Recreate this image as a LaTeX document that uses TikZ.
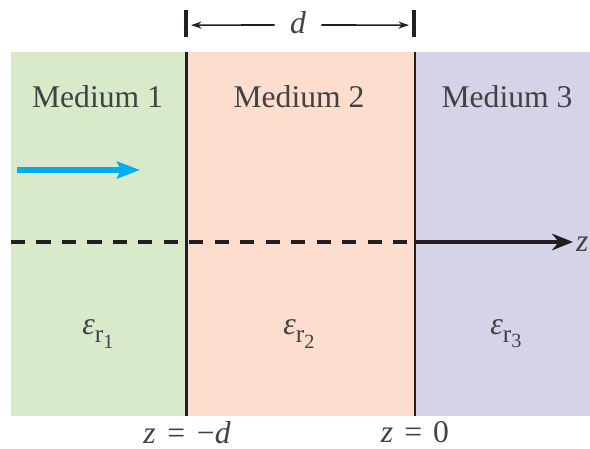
\documentclass[tikz,border=0pt]{standalone}
\usepackage{fontspec}
\setmainfont{Liberation Serif}
\usepackage{tikz}
\usetikzlibrary{arrows.meta, positioning, calc}
\definecolor{medgreen}{RGB}{217, 234, 203}
\definecolor{medpeach}{RGB}{252, 221, 206}
\definecolor{medlilac}{RGB}{213, 211, 232}
\definecolor{wavecyan}{RGB}{0, 174, 239}
\definecolor{inkgray}{RGB}{35, 31, 32}
\newcommand{\epsr}[1]{\textit{ε}\raisebox{-4.5pt}{\fontsize{14.5}{16}\selectfont r\raisebox{-3pt}{\fontsize{11.5}{13}\selectfont #1}}}

\begin{document}
\begin{tikzpicture}[
  lbl/.style={font=\rmfamily\fontsize{18}{21}\selectfont, text=inkgray!85, inner sep=1pt},
  wall/.style={draw=inkgray, line width=1.7pt},
  tick/.style={draw=inkgray, line width=1.8pt}
]
  \useasboundingbox (0, 0) rectangle (11.8, 8.98);

  % Media
  \fill[medgreen] (0.22, 0.66) rectangle (3.73, 7.94);
  \fill[medpeach] (3.73, 0.66) rectangle (8.30, 7.94);
  \fill[medlilac] (8.30, 0.66) rectangle (11.8, 7.94);

  % Boundaries
  \coordinate (b1top) at (3.73, 7.94);
  \coordinate (b1bot) at (3.73, 0.66);
  \coordinate (b2top) at (8.30, 7.94);
  \coordinate (b2bot) at (8.30, 0.66);
  \draw[wall] (b1top) -- (b1bot);
  \draw[wall] (b2top) -- (b2bot);

  \node[lbl] (m1) at (1.95, 7.04) {Medium 1};
  \node[lbl] (m2) at (5.98, 7.04) {Medium 2};
  \node[lbl] (m3) at (10.14, 7.04) {Medium 3};

  \node[lbl] (e1) at (1.96, 2.3) {\epsr{1}};
  \node[lbl] (e2) at (5.98, 2.3) {\epsr{2}};
  \node[lbl] (e3) at (10.12, 2.3) {\epsr{3}};

  % Incident wave
  \coordinate (w0) at (0.34, 5.58);
  \coordinate (w1) at (2.8, 5.58);
  \draw[wavecyan, line width=3.4pt, -{Stealth[length=13pt, width=9.5pt, inset=2pt]}] (w0) -- (w1);

  % z axis
  \coordinate (a0) at (0.22, 4.14);
  \coordinate (ax) at (b2top |- a0);
  \coordinate (a1) at (11.46, 4.14);
  \draw[inkgray, line width=2.1pt, dash pattern=on 8pt off 6.5pt] (a0) -- (ax);
  \draw[inkgray, line width=1.9pt, -{Stealth[length=12pt, width=9.5pt]}] (ax) -- (a1);
  \node[lbl, anchor=west, inner sep=0.5pt] (zax) at (11.5, 4.1) {\textit{z}};

  % Thickness d
  \coordinate (t1a) at (3.72, 8.78);
  \coordinate (t1b) at (3.72, 8.24);
  \coordinate (t2a) at (8.28, 8.78);
  \coordinate (t2b) at (8.28, 8.24);
  \draw[tick] (t1a) -- (t1b);
  \draw[tick] (t2a) -- (t2b);
  \node[lbl, inner xsep=0.3cm] (dd) at (5.96, 8.52) {\textit{d}};
  \draw[inkgray, line width=0.9pt, -{Stealth[length=6pt, width=4pt]}] (dd.west |- 0, 8.48) -- ($(t1a)!0.56!(t1b) + (0.1, 0)$);
  \draw[inkgray, line width=0.9pt, -{Stealth[length=6pt, width=4pt]}] (dd.east |- 0, 8.48) -- ($(t2a)!0.56!(t2b) - (0.1, 0)$);

  % Interface positions
  \node[lbl] (zl) at (3.74, 0.33) {\textit{z}\hspace{0.12em} = \hspace{0.12em}−\textit{d}};
  \node[lbl] (zr) at (8.30, 0.33) {\textit{z}\hspace{0.1em} = \hspace{0.1em}0};
\end{tikzpicture}
\end{document}
